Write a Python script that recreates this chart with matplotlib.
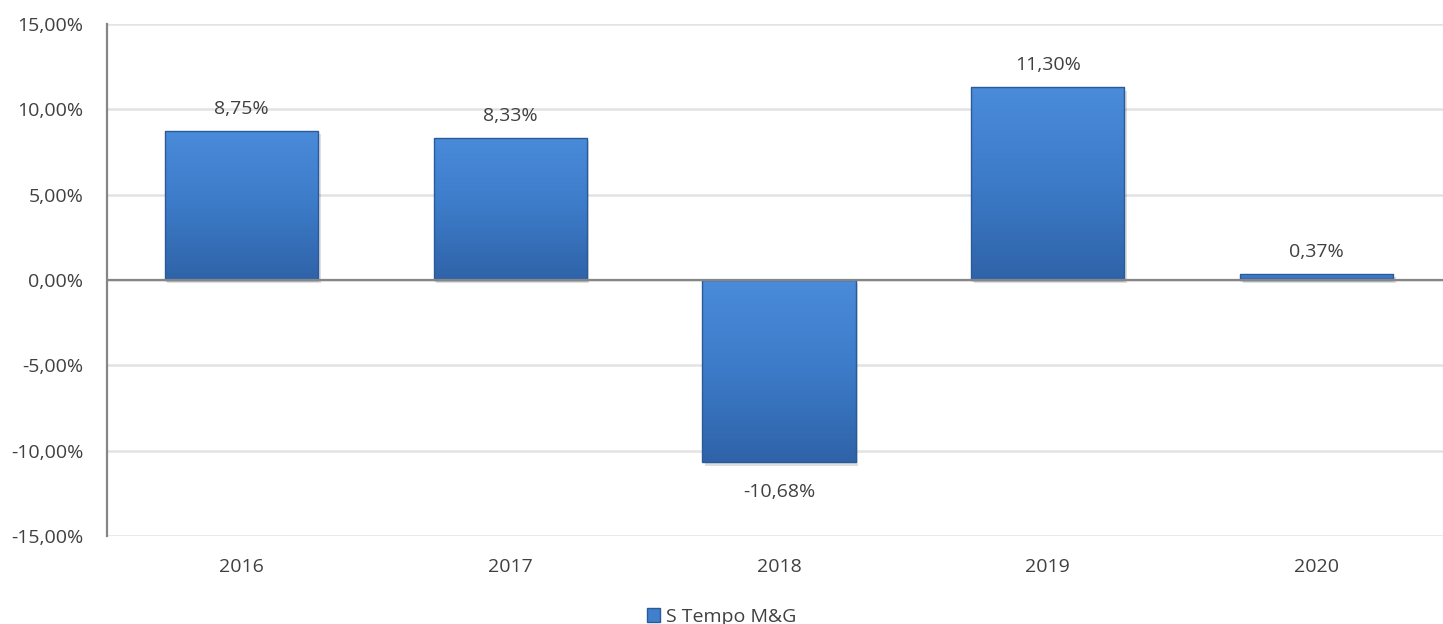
import numpy as np
import matplotlib.pyplot as plt
import matplotlib.colors as mcolors
from matplotlib.patches import Rectangle

plt.rcParams['font.family'] = ['Open Sans', 'DejaVu Sans']

years = ['2016', '2017', '2018', '2019', '2020']
returns = [8.75, 8.33, -10.68, 11.30, 0.37]
series_name = 'S Tempo M&G'

fs = 14
txt_col = '#404040'

fig = plt.figure(figsize=(14.43, 6.24), dpi=100)
ax = fig.add_axes([107 / 1443, (624 - 536) / 624, (1451 - 107) / 1443, (536 - 24) / 624])

x = np.arange(len(years))
width = 0.57
bars = ax.bar(x, returns, width=width, color='#3F7FCC', edgecolor='none', zorder=3)

# gradient fill + soft shadow for each bar
cmap = mcolors.LinearSegmentedColormap.from_list('bl', ['#2F63A8', '#3C7BC8', '#4A8BDA'])
grad = np.linspace(0, 1, 256).reshape(-1, 1)
for b in bars:
    x0, w = b.get_x(), b.get_width()
    y0, h = b.get_y(), b.get_height()
    ylo, yhi = min(y0, y0 + h), max(y0, y0 + h)
    sh = Rectangle((x0 + 0.01, ylo - 0.2), w, yhi - ylo, color='#000000', alpha=0.13,
                   zorder=2, linewidth=0)
    ax.add_patch(sh)
    im = ax.imshow(grad, extent=[x0, x0 + w, ylo, yhi], origin='lower', cmap=cmap,
                   aspect='auto', zorder=3.5)
    im.set_clip_path(b)
    ax.add_patch(Rectangle((x0, ylo), w, yhi - ylo, fill=False, edgecolor='#2A5A98',
                           linewidth=1.0, zorder=4))

for xi, v in zip(x, returns):
    txt = f'{v:.2f}%'.replace('.', ',')
    if v >= 0:
        ax.text(xi, v + 0.75, txt, ha='center', va='bottom', fontsize=fs, color=txt_col)
    else:
        ax.text(xi, v - 1.2, txt, ha='center', va='top', fontsize=fs, color=txt_col)

ax.set_ylim(-15, 15)
ax.set_xlim(-0.5, 4.5)
ax.set_yticks(np.arange(-15, 16, 5))
ax.set_yticklabels([f'{t:.2f}%'.replace('.', ',') for t in np.arange(-15, 16, 5)])
ax.set_xticks(x)
ax.set_xticklabels(years)
ax.tick_params(axis='both', length=0, labelsize=fs, labelcolor=txt_col)
ax.tick_params(axis='x', pad=16)
ax.tick_params(axis='y', pad=17)

ax.grid(axis='y', color='#E3E3E3', linewidth=1.8, zorder=0)
ax.axhline(0, color='#868686', linewidth=1.6, zorder=5)
for s in ['top', 'right', 'bottom']:
    ax.spines[s].set_visible(False)
ax.spines['left'].set_color('#868686')
ax.spines['left'].set_linewidth(1.6)

leg = fig.legend([Rectangle((0, 0), 1, 1, facecolor='#3F7FCC', edgecolor='#2A5A98')],
                 [series_name], loc='center', bbox_to_anchor=(0.5, 7 / 624),
                 frameon=False, fontsize=fs, handlelength=0.7, handleheight=0.7,
                 handletextpad=0.3)
for t in leg.get_texts():
    t.set_color(txt_col)

fig.savefig('out.png', dpi=100)
